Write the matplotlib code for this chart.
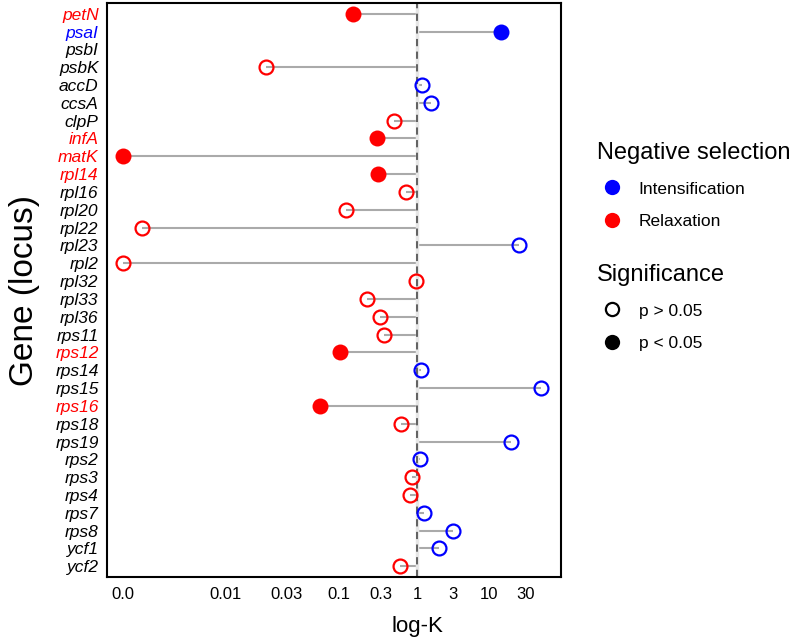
import numpy as np
import matplotlib
matplotlib.use("Agg")
import matplotlib.pyplot as plt
from matplotlib.lines import Line2D

plt.rcParams['font.family'] = ['Liberation Sans', 'DejaVu Sans']

# data
genes = ["petN", "psaI", "psbI", "psbK", "accD", "ccsA", "clpP", "infA", "matK",
         "rpl14", "rpl16", "rpl20", "rpl22", "rpl23", "rpl2", "rpl32", "rpl33",
         "rpl36", "rps11", "rps12", "rps14", "rps15", "rps16", "rps18", "rps19",
         "rps2", "rps3", "rps4", "rps7", "rps8", "ycf1", "ycf2"]
k_values = [0.145, 14.2, np.nan, 0.0206, 1.15, 1.53, 0.46, 0.27, 0.0,
            0.28, 0.69, 0.12, 0.0018, 24.2, 0.0, 0.98, 0.208,
            0.29, 0.33, 0.103, 1.14, 47.5, 0.064, 0.58, 19.0,
            1.11, 0.855, 0.78, 1.23, 3.02, 1.94, 0.57]
significant = [1, 1, 0, 0, 0, 0, 0, 1, 1,
               1, 0, 0, 0, 0, 0, 0, 0,
               0, 0, 1, 0, 0, 1, 0, 0,
               0, 0, 0, 0, 0, 0, 0]
tick_values = [0.0, 0.01, 0.03, 0.1, 0.3, 1, 3, 10, 30]
tick_labels = ["0.0", "0.01", "0.03", "0.1", "0.3", "1", "3", "10", "30"]

BLUE = "#0000ff"
RED = "#ff0000"

# the reference axis is an uneven log-like stretch; rebuild it as a scale
T_ANCH = np.array([-4, -3, -2, np.log10(0.03), -1, np.log10(0.3), 0,
                   np.log10(3), 1, np.log10(30), np.log10(30) + 1])
P_ANCH = np.array([20, 123, 226, 287, 339, 381, 417, 453, 489, 526, 601], float)


def _interp(v, xs, ys):
    out = np.interp(v, xs, ys)
    lo = v < xs[0]
    hi = v > xs[-1]
    out = np.where(lo, ys[0] + (v - xs[0]) * (ys[1] - ys[0]) / (xs[1] - xs[0]), out)
    out = np.where(hi, ys[-1] + (v - xs[-1]) * (ys[-1] - ys[-2]) / (xs[-1] - xs[-2]), out)
    return out


def fwd(x):
    x = np.asarray(x, float)
    with np.errstate(divide="ignore", invalid="ignore"):
        t = np.where(x >= 0.01, np.log10(np.maximum(x, 1e-300)), -3 + x / 0.01)
    return _interp(t, T_ANCH, P_ANCH)


def inv(u):
    u = np.asarray(u, float)
    t = _interp(u, P_ANCH, T_ANCH)
    with np.errstate(over="ignore"):
        return np.where(t >= -2, 10.0 ** np.minimum(t, 300), 0.01 * (t + 3))


fig = plt.figure(figsize=(7.92, 6.39), dpi=100)
ax = fig.add_axes([107 / 792, 1 - 577 / 639, 454 / 792, 574 / 639])
ax.set_xscale("function", functions=(fwd, inv))

y = np.arange(len(genes))
k = np.array(k_values)
sig = np.array(significant, bool)

for yi, ki, si in zip(y, k, sig):
    if np.isnan(ki):
        continue
    col = BLUE if ki > 1 else RED
    ax.plot([1, ki], [yi, yi], color="#aaaaaa", lw=1.5, zorder=1, solid_capstyle="butt")
    if si:
        ax.plot(ki, yi, "o", ms=11.5, mfc=col, mec=col, mew=0, zorder=3)
    else:
        ax.plot(ki, yi, "o", ms=10, mfc="none", mec=col, mew=1.6, zorder=3)

ax.axvline(1, color="#e6e6e6", lw=2.5, zorder=1.5)
ax.axvline(1, color="#555555", lw=1.3, ls=(0, (4, 3)), zorder=2)

ax.set_xlim(-0.00155, 88)
ax.set_ylim(len(genes) - 1 + 0.6, -0.6)

ax.set_xticks(tick_values)
ax.set_xticklabels(tick_labels, fontsize=12)
ax.xaxis.set_minor_locator(plt.NullLocator())
ax.set_yticks(y)
ax.set_yticklabels(genes, fontsize=12.5, style="italic")
for lab, ki, si in zip(ax.get_yticklabels(), k, sig):
    if si:
        lab.set_color(BLUE if ki > 1 else RED)
ax.tick_params(axis="both", length=0)
ax.tick_params(axis="x", pad=7)
ax.tick_params(axis="y", pad=6)

for s in ax.spines.values():
    s.set_linewidth(1.5)
    s.set_color("black")

ax.set_xlabel("log-K", fontsize=16)
ax.xaxis.set_label_coords((417 - 107) / 454, -0.068)
ax.set_ylabel("Gene (locus)", fontsize=24)
ax.yaxis.set_label_coords(-0.147, 0.5)

# legends
leg_kw = dict(loc="upper left", frameon=False, fontsize=12.5, title_fontsize=17,
              alignment="left", borderpad=0, borderaxespad=0, handlelength=1.7,
              handletextpad=0.7, labelspacing=1.0)
h1 = [Line2D([], [], ls="", marker="o", ms=11, mfc=BLUE, mec=BLUE, mew=0),
      Line2D([], [], ls="", marker="o", ms=11, mfc=RED, mec=RED, mew=0)]
fig.legend(h1, ["Intensification", "Relaxation"], title="Negative selection",
           bbox_to_anchor=(597 / 792, 1 - 142 / 639), **leg_kw)
h2 = [Line2D([], [], ls="", marker="o", ms=9.5, mfc="white", mec="black", mew=1.6),
      Line2D([], [], ls="", marker="o", ms=11, mfc="black", mec="black", mew=0)]
fig.legend(h2, ["p > 0.05", "p < 0.05"], title="Significance",
           bbox_to_anchor=(597 / 792, 1 - 264 / 639), **leg_kw)

fig.savefig("out.png", dpi=100)
